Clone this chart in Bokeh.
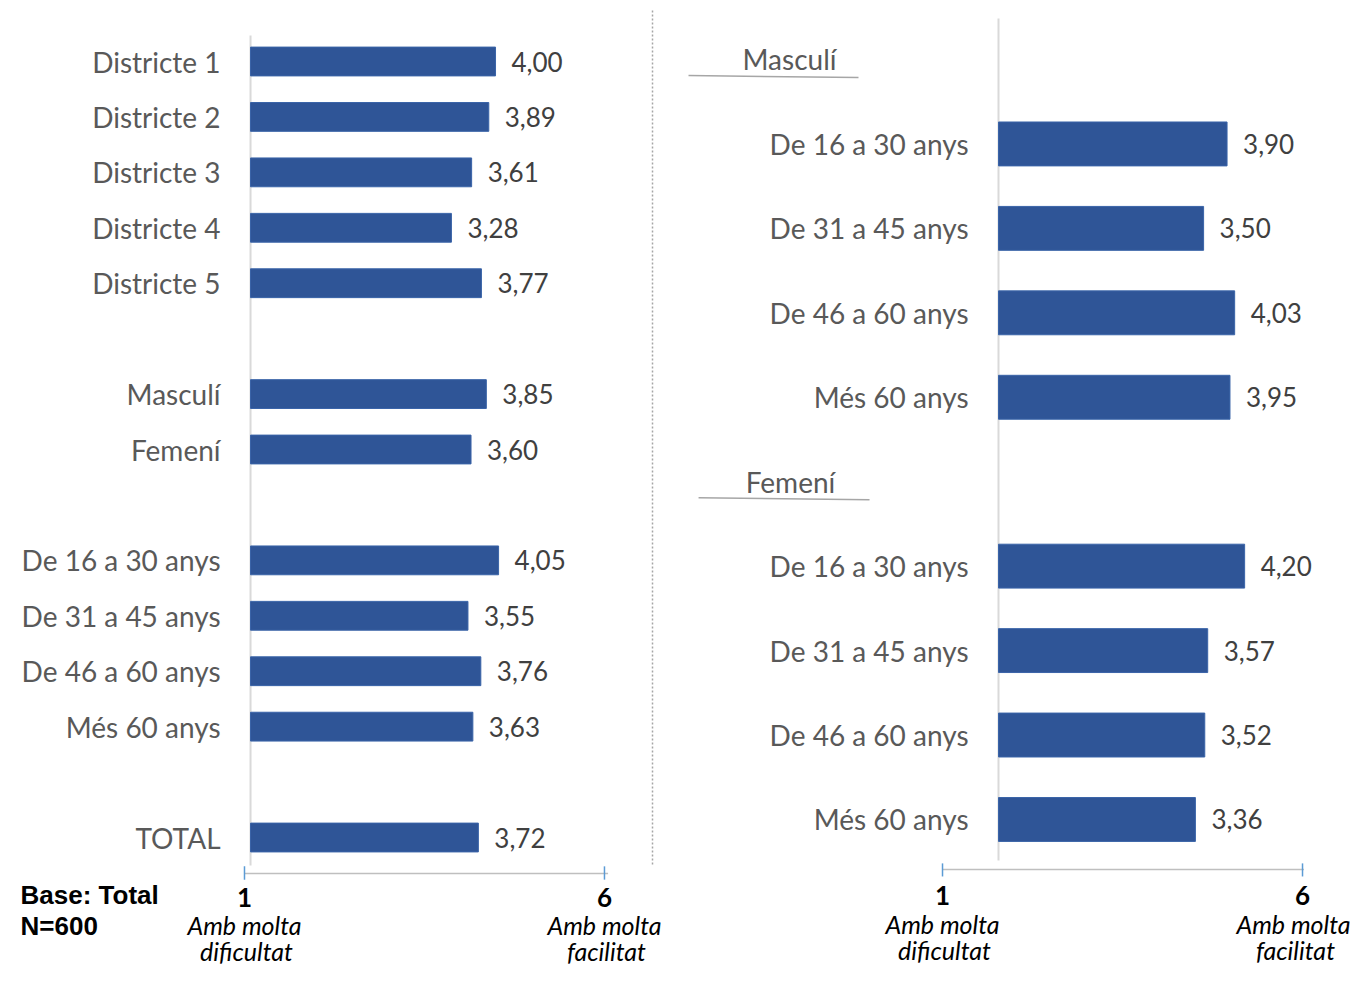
import pandas as pd
from bokeh.plotting import figure
from bokeh.layouts import row
from bokeh.models import Range1d, ColumnDataSource
from bokeh.core.properties import value
from bokeh.embed import file_html
from bokeh.resources import INLINE

# ---------------- data ----------------
districts = ["Districte 1", "Districte 2", "Districte 3", "Districte 4", "Districte 5"]
district_values = [4.00, 3.89, 3.61, 3.28, 3.77]
genders = ["Masculí", "Femení"]
gender_values = [3.85, 3.60]
age_groups = ["De 16 a 30 anys", "De 31 a 45 anys", "De 46 a 60 anys", "Més 60 anys"]
age_values = [4.05, 3.55, 3.76, 3.63]
total_label = ["TOTAL"]
total_values = [3.72]

male_age_values = [3.90, 3.50, 4.03, 3.95]
female_age_values = [4.20, 3.57, 3.52, 3.36]

scale_ticks = [1, 6]
scale_tick_labels = ["1", "6"]
scale_end_top = ["Amb molta", "Amb molta"]
scale_end_bottom = ["dificultat", "facilitat"]
base_note = ["Base: Total", "N=600"]


def fmt(v):
    return f"{v:.2f}".replace(".", ",")


# ---------------- styles ----------------
BLUE = "#2F5597"
BAR_EDGE = "#3A64A8"
CAT_COLOR = "#595959"
VAL_COLOR = "#404040"
FONT = value("Lato")
CAT_SIZE = "28px"
VAL_SIZE = "26px"
SCALE_SIZE = "25px"


def base_fig(w, h, xr, yr, scale_range):
    p = figure(width=w, height=h, x_range=Range1d(*xr), y_range=Range1d(*yr),
               output_backend="svg", toolbar_location=None, min_border=0,
               x_axis_location=None, y_axis_location=None,
               outline_line_color=None, background_fill_color="white")
    p.grid.visible = False
    p.extra_x_ranges = {"scale": Range1d(*scale_range)}
    return p


def draw_scale(p, y_line, y_t0, y_t1, y_num, y_l1, y_l2, line_end, end_shift):
    p.segment(x0=[scale_ticks[0]], x1=[line_end], y0=[y_line], y1=[y_line],
              x_range_name="scale", line_color="#BFBFBF", line_width=1.5)
    p.segment(x0=scale_ticks, x1=scale_ticks, y0=[y_t0] * 2, y1=[y_t1] * 2,
              x_range_name="scale", line_color="#5B9BD5", line_width=1.5)
    p.text(x=scale_ticks, y=[y_num] * 2, text=scale_tick_labels, x_range_name="scale",
           text_align="center", text_baseline="middle", text_font=FONT,
           text_font_style="bold", text_font_size="26px", text_color="black")
    for i, tk in enumerate(scale_ticks):
        shift = end_shift if i == len(scale_ticks) - 1 else 0
        p.text(x=[tk], y=[y_l1], text=[scale_end_top[i]], x_range_name="scale",
               x_offset=shift, text_align="center", text_baseline="middle", text_font=FONT,
               text_font_style="italic", text_font_size=SCALE_SIZE, text_color="black")
        p.text(x=[tk], y=[y_l2], text=[scale_end_bottom[i]], x_range_name="scale",
               x_offset=shift + 2, text_align="center", text_baseline="middle", text_font=FONT,
               text_font_style="italic", text_font_size=SCALE_SIZE, text_color="black")


H = 967

# ---------------- left panel ----------------
left_groups = [(districts, district_values), (genders, gender_values),
               (age_groups, age_values), (total_label, total_values)]
l_cat, l_val, l_row = [], [], []
r = 0
for names, vals in left_groups:
    for n, v in zip(names, vals):
        l_cat.append(n)
        l_val.append(v)
        l_row.append(r)
        r += 1
    r += 1
left_df = pd.DataFrame({"cat": l_cat, "val": l_val, "row": l_row})
left_df["lbl"] = left_df["val"].map(fmt)
lsrc = ColumnDataSource(left_df)

pl = base_fig(680, H, (-4.082, 7.020), (16.345, -1.1005), (-2.389, 7.056))
pl.segment(x0=[0], x1=[0], y0=[-0.469], y1=[14.505], line_color="#D9D9D9", line_width=2)
pl.hbar(y="row", left=0, right="val", height=0.52, source=lsrc,
        fill_color=BLUE, line_color=BAR_EDGE, line_width=1)
pl.text(x=0, y="row", text="cat", source=lsrc, x_offset=-30, text_align="right",
        text_baseline="middle", text_font=FONT, text_font_size=CAT_SIZE, text_color=CAT_COLOR)
pl.text(x="val", y="row", text="lbl", source=lsrc, x_offset=16, text_align="left",
        text_baseline="middle", text_font=FONT, text_font_size=VAL_SIZE, text_color=VAL_COLOR)
pl.segment(x0=[6.563], x1=[6.563], y0=[-0.92], y1=[14.505], line_color="#A6A6A6",
           line_width=1.5, line_dash="2 2")
draw_scale(pl, 14.65, 14.52, 14.76, 15.082, 15.587, 16.056, 6.05, 0)
pl.text(x=[-3.755] * 2, y=[15.03, 15.6], text=base_note, text_align="left",
        text_baseline="middle", text_font=value("Liberation Sans"), text_font_style="bold",
        text_font_size="26px", text_color="black")

# ---------------- right panel ----------------
right_groups = [("Masculí", age_groups, male_age_values),
                ("Femení", age_groups, female_age_values)]
h_txt, h_row = [], []
r_cat, r_val, r_row = [], [], []
r = 0
for head, names, vals in right_groups:
    h_txt.append(head)
    h_row.append(r)
    r += 1
    for n, v in zip(names, vals):
        r_cat.append(n)
        r_val.append(v)
        r_row.append(r)
        r += 1
right_df = pd.DataFrame({"cat": r_cat, "val": r_val, "row": r_row})
right_df["lbl"] = right_df["val"].map(fmt)
rsrc = ColumnDataSource(right_df)

pr = base_fig(674, H, (-5.427, 6.075), (10.753, -0.6987), (-2.639, 6.722))
pr.segment(x0=[0], x1=[0], y0=[-0.486], y1=[9.486], line_color="#D9D9D9", line_width=2)
pr.hbar(y="row", left=0, right="val", height=0.52, source=rsrc,
        fill_color=BLUE, line_color=BAR_EDGE, line_width=1)
pr.text(x=0, y="row", text="cat", source=rsrc, x_offset=-30, text_align="right",
        text_baseline="middle", text_font=FONT, text_font_size=CAT_SIZE, text_color=CAT_COLOR)
pr.text(x="val", y="row", text="lbl", source=rsrc, x_offset=16, text_align="left",
        text_baseline="middle", text_font=FONT, text_font_size=VAL_SIZE, text_color=VAL_COLOR)
# group headers with underline
pr.text(x=[-3.567, -3.55], y=h_row, text=h_txt, text_align="center", text_baseline="middle",
        text_font=FONT, text_font_size=CAT_SIZE, text_color=CAT_COLOR)
pr.segment(x0=[-5.29, -5.119], x1=[-2.389, -2.201],
           y0=[h + 0.19 for h in h_row], y1=[h + 0.213 for h in h_row],
           line_color="#A6A6A6", line_width=1.5)
draw_scale(pr, 9.593, 9.52, 9.675, 9.901, 10.232, 10.540, 6.02, -9)

layout = row(pl, pr, spacing=0)
open("out.html", "w").write(file_html(layout, INLINE))
